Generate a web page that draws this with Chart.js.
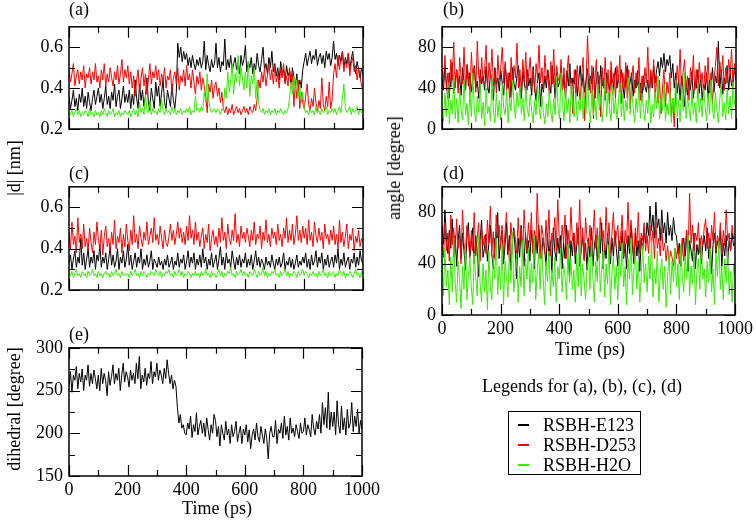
<!DOCTYPE html>
<html>
<head>
<meta charset="utf-8">
<script src="https://cdn.jsdelivr.net/npm/chart.js@4"></script>
<style>
  html, body { margin: 0; padding: 0; background: #fff; }
  body { width: 756px; height: 520px; position: relative; overflow: hidden;
         font-family: 'Liberation Serif', 'Times New Roman', serif; color: #000; }
  canvas { position: absolute; }
  .txt { position: absolute; font-size: 18px; line-height: 18px; white-space: nowrap; }
  .rot { position: absolute; font-size: 18px; line-height: 18px; white-space: nowrap;
         transform: translate(-50%, -50%) rotate(-90deg); }
  .ctr { position: absolute; font-size: 18px; line-height: 18px; white-space: nowrap;
         transform: translate(-50%, -50%); }
  #legend { position: absolute; left: 508px; top: 411px; width: 131px; height: 62px;
            border: 1.5px solid #000; }
  .row { position: absolute; left: 0; height: 20px; width: 130px; }
  .row span.ln { position: absolute; left: 9px; top: 9px; width: 11px; height: 1.5px; }
  .row span.lb { position: absolute; left: 34px; top: 1px; font-size: 18px; line-height: 18px; }
</style>
</head>
<body>

<canvas id="panelA" style="left:19px; top:10px;" width="364" height="156"></canvas>
<canvas id="panelB" style="left:392px; top:10px;" width="364" height="156"></canvas>
<canvas id="panelC" style="left:19px; top:170px;" width="364" height="157"></canvas>
<canvas id="panelD" style="left:392px; top:170px;" width="364" height="170"></canvas>
<canvas id="panelE" style="left:19px; top:331px;" width="364" height="170"></canvas>

<div class="txt" style="left:69px; top:0px;">(a)</div>
<div class="txt" style="left:443px; top:0px;">(b)</div>
<div class="txt" style="left:69px; top:164px;">(c)</div>
<div class="txt" style="left:443px; top:164px;">(d)</div>
<div class="txt" style="left:69px; top:325px;">(e)</div>

<div class="rot" style="left:14px; top:168px;">|d| [nm]</div>
<div class="rot" style="left:394px; top:168px;">angle [degree]</div>
<div class="rot" style="left:14px; top:409px;">dihedral [degree]</div>
<div class="ctr" style="left:590px; top:349px;">Time (ps)</div>
<div class="ctr" style="left:217px; top:508px;">Time (ps)</div>

<div class="ctr" style="left:582px; top:386px;">Legends for (a), (b), (c), (d)</div>
<div id="legend"></div>

<script>
// time axis (ps), one sample every 5 ps
const timePs = [
    0, 5, 10, 15, 20, 25, 30, 35, 40, 45, 50, 55, 60, 65, 70, 75, 80, 85, 90, 95,
    100, 105, 110, 115, 120, 125, 130, 135, 140, 145, 150, 155, 160, 165, 170, 175, 180, 185, 190, 195,
    200, 205, 210, 215, 220, 225, 230, 235, 240, 245, 250, 255, 260, 265, 270, 275, 280, 285, 290, 295,
    300, 305, 310, 315, 320, 325, 330, 335, 340, 345, 350, 355, 360, 365, 370, 375, 380, 385, 390, 395,
    400, 405, 410, 415, 420, 425, 430, 435, 440, 445, 450, 455, 460, 465, 470, 475, 480, 485, 490, 495,
    500, 505, 510, 515, 520, 525, 530, 535, 540, 545, 550, 555, 560, 565, 570, 575, 580, 585, 590, 595,
    600, 605, 610, 615, 620, 625, 630, 635, 640, 645, 650, 655, 660, 665, 670, 675, 680, 685, 690, 695,
    700, 705, 710, 715, 720, 725, 730, 735, 740, 745, 750, 755, 760, 765, 770, 775, 780, 785, 790, 795,
    800, 805, 810, 815, 820, 825, 830, 835, 840, 845, 850, 855, 860, 865, 870, 875, 880, 885, 890, 895,
    900, 905, 910, 915, 920, 925, 930, 935, 940, 945, 950, 955, 960, 965, 970, 975, 980, 985, 990, 995,
    1000
];

const seriesNames = ['RSBH-E123', 'RSBH-D253', 'RSBH-H2O'];
const seriesColors = ['#000000', '#ff0000', '#33ee00'];

// (a) |d| [nm]
const distA_E123 = [
    0.36, 0.30, 0.34, 0.39, 0.31, 0.35, 0.29, 0.37, 0.33, 0.40, 0.31, 0.36, 0.30, 0.38, 0.33, 0.29, 0.35, 0.39, 0.32, 0.36,
    0.40, 0.33, 0.37, 0.30, 0.35, 0.41, 0.32, 0.36, 0.30, 0.38, 0.34, 0.42, 0.31, 0.36, 0.39, 0.30, 0.35, 0.41, 0.33, 0.37,
    0.33, 0.39, 0.30, 0.37, 0.32, 0.44, 0.35, 0.30, 0.42, 0.34, 0.39, 0.31, 0.36, 0.45, 0.33, 0.29, 0.40, 0.35, 0.30, 0.43,
    0.36, 0.41, 0.31, 0.38, 0.44, 0.33, 0.30, 0.39, 0.35, 0.31, 0.42, 0.34, 0.30, 0.38, 0.62, 0.55, 0.60, 0.53, 0.58, 0.54,
    0.57, 0.51, 0.55, 0.50, 0.56, 0.52, 0.49, 0.54, 0.51, 0.55, 0.50, 0.53, 0.63, 0.49, 0.56, 0.51, 0.48, 0.54, 0.50, 0.52,
    0.62, 0.50, 0.55, 0.48, 0.53, 0.51, 0.64, 0.49, 0.54, 0.50, 0.56, 0.48, 0.52, 0.55, 0.49, 0.53, 0.47, 0.56, 0.51, 0.54,
    0.61, 0.48, 0.53, 0.50, 0.55, 0.47, 0.52, 0.49, 0.57, 0.51, 0.48, 0.54, 0.60, 0.49, 0.52, 0.47, 0.55, 0.50, 0.58, 0.48,
    0.52, 0.46, 0.50, 0.44, 0.53, 0.47, 0.49, 0.43, 0.51, 0.46, 0.48, 0.42, 0.50, 0.45, 0.41, 0.47, 0.38, 0.44, 0.40, 0.49,
    0.53, 0.57, 0.51, 0.55, 0.58, 0.52, 0.56, 0.54, 0.59, 0.51, 0.55, 0.57, 0.52, 0.56, 0.50, 0.58, 0.54, 0.57, 0.51, 0.55,
    0.63, 0.54, 0.57, 0.51, 0.56, 0.53, 0.58, 0.50, 0.55, 0.52, 0.57, 0.49, 0.54, 0.58, 0.51, 0.47, 0.53, 0.49, 0.45, 0.50,
    0.46
];
const distA_D253 = [
    0.50, 0.43, 0.47, 0.52, 0.41, 0.46, 0.49, 0.42, 0.48, 0.44, 0.51, 0.40, 0.47, 0.45, 0.50, 0.42, 0.48, 0.44, 0.52, 0.43,
    0.46, 0.40, 0.49, 0.44, 0.52, 0.41, 0.47, 0.43, 0.50, 0.45, 0.41, 0.48, 0.44, 0.51, 0.42, 0.47, 0.54, 0.43, 0.49, 0.45,
    0.51, 0.42, 0.48, 0.40, 0.46, 0.36, 0.44, 0.49, 0.38, 0.45, 0.50, 0.41, 0.47, 0.37, 0.44, 0.52, 0.42, 0.48, 0.45, 0.51,
    0.44, 0.49, 0.41, 0.47, 0.43, 0.50, 0.40, 0.46, 0.44, 0.49, 0.38, 0.45, 0.48, 0.42, 0.50, 0.39, 0.46, 0.43, 0.49, 0.41,
    0.51, 0.44, 0.47, 0.40, 0.49, 0.43, 0.37, 0.46, 0.42, 0.48, 0.39, 0.45, 0.41, 0.36, 0.28, 0.42, 0.38, 0.44, 0.35, 0.41,
    0.43, 0.36, 0.40, 0.33, 0.38, 0.30, 0.28, 0.31, 0.27, 0.30, 0.28, 0.32, 0.27, 0.29, 0.31, 0.28, 0.30, 0.27, 0.29, 0.31,
    0.28, 0.30, 0.27, 0.31, 0.29, 0.28, 0.32, 0.29, 0.35, 0.44, 0.40, 0.48, 0.43, 0.50, 0.41, 0.46, 0.52, 0.44, 0.49, 0.42,
    0.51, 0.43, 0.47, 0.40, 0.49, 0.45, 0.52, 0.42, 0.46, 0.41, 0.50, 0.44, 0.47, 0.31, 0.43, 0.35, 0.44, 0.30, 0.38, 0.33,
    0.30, 0.36, 0.42, 0.32, 0.29, 0.35, 0.31, 0.40, 0.33, 0.28, 0.34, 0.30, 0.45, 0.32, 0.29, 0.36, 0.31, 0.43, 0.30, 0.34,
    0.47, 0.52, 0.45, 0.56, 0.49, 0.54, 0.58, 0.48, 0.53, 0.50, 0.57, 0.46, 0.52, 0.55, 0.48, 0.51, 0.44, 0.50, 0.46, 0.41,
    0.39
];
const distA_H2O = [
    0.28, 0.27, 0.29, 0.26, 0.28, 0.30, 0.27, 0.29, 0.26, 0.28, 0.27, 0.29, 0.28, 0.26, 0.30, 0.27, 0.28, 0.26, 0.29, 0.27,
    0.28, 0.26, 0.29, 0.27, 0.30, 0.28, 0.26, 0.29, 0.27, 0.28, 0.30, 0.26, 0.28, 0.27, 0.29, 0.26, 0.28, 0.27, 0.29, 0.28,
    0.27, 0.29, 0.26, 0.28, 0.30, 0.27, 0.29, 0.26, 0.33, 0.28, 0.30, 0.27, 0.37, 0.29, 0.28, 0.34, 0.27, 0.30, 0.28, 0.29,
    0.27, 0.30, 0.28, 0.35, 0.29, 0.27, 0.30, 0.28, 0.29, 0.27, 0.31, 0.28, 0.30, 0.27, 0.29, 0.28, 0.30, 0.27, 0.29, 0.28,
    0.30, 0.28, 0.31, 0.27, 0.29, 0.28, 0.36, 0.29, 0.30, 0.28, 0.31, 0.29, 0.38, 0.33, 0.47, 0.35, 0.30, 0.28, 0.29, 0.30,
    0.28, 0.30, 0.29, 0.27, 0.30, 0.29, 0.40, 0.35, 0.48, 0.38, 0.44, 0.52, 0.37, 0.47, 0.43, 0.56, 0.41, 0.50, 0.45, 0.39,
    0.48, 0.40, 0.53, 0.36, 0.46, 0.42, 0.50, 0.35, 0.44, 0.33, 0.29, 0.28, 0.30, 0.27, 0.29, 0.28, 0.30, 0.27, 0.29, 0.28,
    0.30, 0.27, 0.29, 0.28, 0.30, 0.28, 0.27, 0.29, 0.28, 0.30, 0.35, 0.43, 0.37, 0.46, 0.39, 0.44, 0.36, 0.42, 0.33, 0.38,
    0.30, 0.28, 0.29, 0.27, 0.30, 0.28, 0.29, 0.27, 0.31, 0.28, 0.29, 0.27, 0.30, 0.28, 0.29, 0.31, 0.27, 0.29, 0.28, 0.30,
    0.28, 0.30, 0.27, 0.29, 0.31, 0.28, 0.35, 0.42, 0.30, 0.28, 0.29, 0.31, 0.27, 0.30, 0.28, 0.29, 0.31, 0.27, 0.30, 0.28,
    0.29
];

// (b) angle [degree]
const angleB_E123 = [
    50, 38, 62, 44, 30, 55, 41, 65, 35, 48, 58, 40, 52, 33, 60, 45, 38, 63, 42, 55,
    36, 50, 62, 40, 47, 30, 58, 44, 52, 38, 61, 42, 35, 55, 46, 28, 60, 43, 50, 37,
    57, 45, 33, 63, 48, 40, 55, 31, 60, 44, 38, 52, 62, 41, 30, 56, 45, 35, 58, 42,
    50, 33, 61, 40, 28, 47, 55, 22, 44, 36, 52, 40, 58, 45, 35, 62, 48, 30, 55, 41,
    46, 60, 38, 52, 30, 57, 42, 64, 35, 50, 44, 58, 32, 48, 62, 40, 54, 36, 47, 59,
    38, 52, 44, 60, 30, 48, 56, 35, 62, 42, 50, 28, 55, 45, 38, 58, 33, 47, 60, 40,
    52, 36, 58, 44, 30, 50, 62, 38, 46, 55, 32, 48, 40, 57, 35, 45, 28, 52, 42, 36,
    48, 30, 55, 40, 62, 45, 58, 66, 52, 70, 60, 74, 56, 68, 62, 72, 50, 64, 40, 55,
    35, 48, 28, 52, 40, 22, 45, 33, 50, 38, 56, 30, 46, 40, 58, 35, 52, 28, 44, 38,
    55, 30, 48, 42, 60, 36, 52, 45, 86, 40, 58, 34, 50, 44, 62, 38, 55, 42, 48, 60,
    48
];
const angleB_D253 = [
    62, 45, 72, 38, 55, 30, 68, 48, 85, 40, 58, 35, 70, 50, 44, 80, 38, 63, 52, 33,
    75, 47, 60, 36, 86, 52, 40, 70, 45, 58, 82, 38, 65, 50, 78, 42, 56, 35, 72, 48,
    60, 80, 45, 66, 38, 55, 28, 70, 42, 62, 50, 84, 40, 58, 35, 68, 46, 75, 38, 55,
    70, 42, 58, 36, 64, 50, 82, 45, 60, 38, 72, 48, 55, 33, 66, 44, 78, 40, 62, 50,
    45, 68, 38, 60, 30, 55, 72, 42, 50, 15, 58, 35, 62, 40, 28, 52, 70, 8, 45, 91,
    55, 35, 62, 10, 48, 68, 30, 52, 12, 60, 40, 70, 35, 58, 25, 66, 45, 55, 30, 62,
    48, 72, 25, 55, 40, 65, 30, 58, 20, 50, 62, 35, 55, 42, 70, 28, 52, 38, 60, 45,
    80, 35, 58, 42, 68, 30, 52, 25, 48, 15, 40, 58, 22, 46, 35, 55, 12, 30, 2, 40,
    62, 45, 78, 35, 55, 68, 40, 52, 28, 60, 45, 72, 38, 58, 30, 65, 48, 55, 35, 62,
    46, 70, 35, 55, 25, 48, 62, 80, 42, 66, 50, 72, 38, 60, 45, 68, 52, 78, 40, 64,
    60
];
const angleB_H2O = [
    20, 8, 35, 12, 45, 5, 28, 15, 52, 10, 30, 6, 40, 18, 9, 48, 14, 25, 4, 38,
    12, 55, 20, 7, 32, 16, 45, 10, 26, 3, 40, 15, 22, 8, 50, 18, 6, 35, 12, 28,
    9, 44, 20, 14, 38, 6, 30, 18, 48, 25, 10, 36, 22, 42, 15, 30, 8, 40, 20, 12,
    34, 18, 6, 28, 14, 45, 22, 10, 32, 16, 5, 25, 12, 38, 18, 7, 30, 14, 52, 20,
    10, 55, 26, 8, 40, 16, 30, 6, 45, 22, 12, 35, 8, 28, 18, 42, 10, 30, 15, 50,
    20, 6, 38, 14, 28, 9, 44, 18, 32, 7, 25, 48, 12, 36, 20, 8, 42, 15, 30, 10,
    26, 45, 12, 34, 8, 28, 18, 50, 14, 38, 22, 6, 30, 16, 44, 10, 35, 20, 8, 28,
    15, 40, 6, 24, 12, 36, 20, 52, 10, 30, 18, 44, 8, 25, 14, 38, 6, 30, 16, 48,
    12, 28, 7, 42, 18, 55, 10, 32, 20, 8, 38, 14, 26, 6, 45, 16, 30, 12, 40, 22,
    8, 35, 14, 48, 20, 10, 36, 18, 6, 30, 44, 12, 26, 9, 40, 15, 32, 10, 46, 24,
    20
];

// (c) |d| [nm]
const distC_E123 = [
    0.33, 0.37, 0.30, 0.35, 0.39, 0.31, 0.36, 0.33, 0.45, 0.32, 0.38, 0.30, 0.35, 0.40, 0.31, 0.36, 0.33, 0.39, 0.30, 0.37,
    0.34, 0.42, 0.31, 0.36, 0.33, 0.38, 0.30, 0.35, 0.41, 0.32, 0.37, 0.31, 0.34, 0.40, 0.30, 0.36, 0.33, 0.39, 0.31, 0.35,
    0.42, 0.32, 0.37, 0.30, 0.34, 0.38, 0.31, 0.36, 0.33, 0.40, 0.30, 0.35, 0.32, 0.37, 0.31, 0.34, 0.39, 0.30, 0.35, 0.33,
    0.31, 0.36, 0.32, 0.34, 0.30, 0.35, 0.32, 0.37, 0.31, 0.33, 0.36, 0.30, 0.34, 0.32, 0.38, 0.31, 0.35, 0.33, 0.37, 0.30,
    0.34, 0.39, 0.31, 0.36, 0.33, 0.38, 0.30, 0.35, 0.32, 0.37, 0.31, 0.40, 0.33, 0.36, 0.30, 0.35, 0.32, 0.38, 0.31, 0.34,
    0.37, 0.30, 0.35, 0.41, 0.32, 0.36, 0.30, 0.38, 0.33, 0.35, 0.31, 0.39, 0.34, 0.30, 0.36, 0.32, 0.37, 0.31, 0.35, 0.33,
    0.38, 0.31, 0.35, 0.32, 0.37, 0.30, 0.34, 0.39, 0.32, 0.36, 0.31, 0.35, 0.33, 0.30, 0.36, 0.32, 0.34, 0.31, 0.37, 0.33,
    0.30, 0.35, 0.32, 0.36, 0.31, 0.33, 0.38, 0.30, 0.34, 0.32, 0.36, 0.31, 0.35, 0.30, 0.33, 0.37, 0.31, 0.34, 0.32, 0.36,
    0.33, 0.38, 0.31, 0.35, 0.30, 0.37, 0.32, 0.34, 0.39, 0.31, 0.36, 0.33, 0.38, 0.30, 0.35, 0.32, 0.37, 0.31, 0.34, 0.36,
    0.31, 0.37, 0.33, 0.40, 0.30, 0.35, 0.32, 0.38, 0.31, 0.34, 0.36, 0.30, 0.35, 0.33, 0.38, 0.31, 0.36, 0.32, 0.39, 0.34,
    0.33
];
const distC_D253 = [
    0.48, 0.40, 0.53, 0.42, 0.46, 0.38, 0.55, 0.43, 0.47, 0.40, 0.52, 0.41, 0.45, 0.39, 0.50, 0.43, 0.38, 0.48, 0.42, 0.53,
    0.44, 0.40, 0.49, 0.37, 0.46, 0.51, 0.41, 0.45, 0.39, 0.48, 0.42, 0.54, 0.40, 0.46, 0.43, 0.50, 0.38, 0.47, 0.41, 0.52,
    0.44, 0.39, 0.49, 0.42, 0.56, 0.43, 0.47, 0.40, 0.51, 0.45, 0.41, 0.48, 0.44, 0.53, 0.42, 0.46, 0.50, 0.43, 0.55, 0.44,
    0.47, 0.42, 0.51, 0.45, 0.40, 0.49, 0.43, 0.41, 0.46, 0.52, 0.44, 0.49, 0.42, 0.47, 0.53, 0.45, 0.50, 0.43, 0.48, 0.42,
    0.51, 0.44, 0.56, 0.45, 0.49, 0.42, 0.53, 0.44, 0.48, 0.41, 0.46, 0.50, 0.40, 0.47, 0.43, 0.52, 0.39, 0.45, 0.49, 0.42,
    0.46, 0.41, 0.50, 0.43, 0.55, 0.44, 0.48, 0.40, 0.52, 0.45, 0.42, 0.49, 0.44, 0.57, 0.43, 0.47, 0.41, 0.51, 0.45, 0.48,
    0.43, 0.50, 0.46, 0.41, 0.49, 0.44, 0.53, 0.42, 0.47, 0.45, 0.51, 0.40, 0.48, 0.44, 0.54, 0.43, 0.47, 0.41, 0.50, 0.45,
    0.48, 0.42, 0.52, 0.44, 0.47, 0.41, 0.50, 0.45, 0.55, 0.43, 0.49, 0.44, 0.52, 0.42, 0.47, 0.56, 0.44, 0.49, 0.43, 0.51,
    0.45, 0.50, 0.42, 0.54, 0.44, 0.48, 0.41, 0.53, 0.46, 0.43, 0.50, 0.44, 0.48, 0.40, 0.52, 0.45, 0.47, 0.42, 0.49, 0.44,
    0.51, 0.42, 0.47, 0.40, 0.54, 0.43, 0.48, 0.41, 0.46, 0.52, 0.40, 0.47, 0.44, 0.50, 0.39, 0.46, 0.43, 0.49, 0.41, 0.45,
    0.43
];
const distC_H2O = [
    0.28, 0.27, 0.29, 0.26, 0.28, 0.30, 0.27, 0.28, 0.26, 0.29, 0.27, 0.28, 0.26, 0.29, 0.27, 0.28, 0.30, 0.27, 0.28, 0.26,
    0.29, 0.27, 0.28, 0.26, 0.28, 0.29, 0.27, 0.28, 0.26, 0.29, 0.27, 0.28, 0.30, 0.27, 0.28, 0.26, 0.29, 0.27, 0.28, 0.27,
    0.28, 0.26, 0.29, 0.27, 0.28, 0.30, 0.27, 0.28, 0.26, 0.29, 0.27, 0.29, 0.28, 0.26, 0.28, 0.27, 0.29, 0.28, 0.27, 0.30,
    0.28, 0.27, 0.29, 0.26, 0.28, 0.27, 0.29, 0.28, 0.30, 0.27, 0.28, 0.26, 0.29, 0.27, 0.28, 0.30, 0.27, 0.29, 0.26, 0.28,
    0.27, 0.29, 0.28, 0.26, 0.28, 0.27, 0.29, 0.27, 0.28, 0.26, 0.29, 0.27, 0.28, 0.30, 0.27, 0.28, 0.26, 0.29, 0.27, 0.28,
    0.26, 0.28, 0.30, 0.27, 0.29, 0.26, 0.28, 0.27, 0.29, 0.28, 0.31, 0.27, 0.28, 0.26, 0.29, 0.27, 0.28, 0.30, 0.27, 0.29,
    0.27, 0.28, 0.26, 0.29, 0.28, 0.27, 0.30, 0.28, 0.26, 0.29, 0.27, 0.28, 0.31, 0.27, 0.29, 0.26, 0.28, 0.27, 0.29, 0.28,
    0.30, 0.27, 0.28, 0.26, 0.29, 0.27, 0.28, 0.30, 0.27, 0.29, 0.26, 0.28, 0.27, 0.29, 0.28, 0.26, 0.29, 0.27, 0.28, 0.30,
    0.27, 0.29, 0.28, 0.26, 0.28, 0.27, 0.29, 0.27, 0.28, 0.26, 0.29, 0.27, 0.28, 0.30, 0.27, 0.28, 0.26, 0.29, 0.27, 0.28,
    0.29, 0.26, 0.28, 0.27, 0.30, 0.28, 0.27, 0.29, 0.26, 0.28, 0.27, 0.29, 0.28, 0.26, 0.28, 0.30, 0.27, 0.28, 0.26, 0.29,
    0.27
];

// (d) angle [degree]
const angleD_E123 = [
    70, 55, 82, 60, 48, 66, 52, 75, 45, 62, 38, 58, 70, 44, 64, 50, 35, 60, 72, 46,
    55, 68, 40, 62, 50, 30, 58, 74, 45, 52, 63, 42, 56, 70, 48, 36, 60, 52, 80, 44,
    58, 66, 40, 54, 72, 47, 62, 35, 56, 68, 50, 28, 60, 45, 70, 52, 38, 64, 48, 58,
    42, 66, 54, 36, 62, 48, 70, 55, 44, 60, 52, 38, 64, 46, 58, 33, 68, 50, 42, 60,
    48, 62, 36, 56, 44, 70, 52, 30, 58, 46, 64, 40, 55, 68, 38, 50, 62, 44, 56, 35,
    60, 45, 68, 38, 54, 62, 42, 58, 48, 72, 36, 55, 44, 64, 50, 40, 60, 46, 66, 52,
    38, 58, 50, 66, 44, 56, 36, 62, 48, 70, 54, 40, 64, 46, 58, 34, 60, 50, 68, 56,
    72, 62, 85, 66, 78, 60, 88, 68, 75, 58, 82, 64, 72, 56, 80, 62, 70, 58, 76, 64,
    62, 48, 56, 38, 52, 60, 45, 66, 34, 58, 50, 42, 64, 36, 55, 47, 60, 40, 54, 62,
    50, 68, 44, 60, 32, 55, 64, 48, 58, 52, 66, 38, 56, 46, 62, 40, 58, 50, 64, 54,
    56
];
const angleD_D253 = [
    58, 45, 72, 50, 64, 42, 78, 55, 68, 48, 75, 52, 62, 40, 82, 56, 48, 70, 58, 44,
    66, 50, 80, 46, 60, 72, 42, 68, 54, 62, 48, 74, 56, 85, 50, 65, 44, 78, 60, 70,
    52, 70, 46, 64, 80, 55, 42, 72, 58, 66, 60, 48, 76, 54, 68, 45, 82, 62, 50, 72,
    56, 80, 48, 66, 52, 95, 58, 44, 70, 62, 48, 74, 55, 82, 46, 64, 58, 76, 50, 90,
    62, 48, 70, 56, 78, 44, 66, 52, 84, 58, 64, 46, 72, 55, 90, 50, 68, 42, 76, 60,
    54, 70, 46, 62, 82, 52, 68, 44, 76, 58, 66, 50, 84, 56, 72, 48, 64, 80, 54, 62,
    70, 50, 62, 78, 46, 66, 56, 88, 52, 74, 60, 45, 68, 54, 80, 48, 64, 58, 72, 50,
    62, 48, 70, 55, 66, 44, 72, 52, 60, 46, 68, 50, 56, 42, 54, 40, 50, 45, 38, 52,
    44, 55, 40, 48, 60, 42, 52, 66, 48, 95, 56, 70, 50, 64, 58, 72, 48, 62, 55, 68,
    75, 52, 64, 46, 70, 58, 80, 50, 62, 56, 72, 48, 66, 54, 82, 58, 64, 50, 70, 60,
    60
];
const angleD_H2O = [
    40, 15, 52, 22, 35, 8, 45, 18, 60, 25, 10, 42, 28, 5, 38, 20, 55, 12, 30, 45,
    22, 8, 48, 30, 15, 62, 25, 10, 40, 18, 35, 4, 50, 22, 12, 45, 28, 60, 16, 38,
    20, 55, 8, 42, 30, 14, 50, 25, 65, 18, 32, 48, 10, 38, 22, 58, 15, 44, 28, 52,
    18, 40, 25, 62, 12, 35, 48, 20, 55, 30, 8, 42, 26, 50, 15, 35, 22, 45, 10, 38,
    28, 52, 18, 40, 30, 12, 55, 25, 44, 20, 35, 10, 48, 22, 58, 15, 40, 28, 12, 36,
    45, 20, 58, 30, 10, 42, 26, 62, 18, 35, 50, 14, 40, 24, 55, 8, 32, 46, 20, 38,
    12, 48, 30, 56, 22, 38, 8, 44, 28, 60, 16, 35, 50, 20, 42, 10, 30, 54, 25, 40,
    18, 46, 28, 58, 14, 36, 24, 50, 10, 32, 44, 20, 38, 6, 30, 48, 16, 42, 26, 52,
    22, 40, 12, 55, 30, 18, 46, 28, 62, 15, 38, 24, 50, 8, 34, 44, 20, 56, 28, 36,
    14, 42, 26, 52, 18, 36, 8, 48, 30, 58, 20, 38, 12, 44, 25, 50, 16, 34, 10, 40,
    30
];

// (e) dihedral [degree]
const dihedralE = [
    255, 272, 248, 268, 262, 278, 252, 270, 260, 275, 250, 268, 262, 280, 255, 270, 258, 274, 264, 252,
    268, 250, 276, 258, 270, 262, 244, 272, 256, 266, 280, 258, 270, 262, 276, 250, 268, 282, 260, 272,
    266, 254, 274, 262, 270, 258, 282, 264, 290, 252, 268, 260, 276, 256, 270, 264, 284, 258, 272, 266,
    282, 262, 274, 268, 258, 276, 264, 286, 270, 258, 268, 252, 262, 255, 230, 212, 222, 206, 210, 200,
    198, 212, 205, 220, 195, 210, 202, 224, 198, 208, 215, 200, 212, 196, 218, 204, 192, 210, 200, 222,
    215, 196, 208, 185, 210, 200, 192, 214, 198, 205, 188, 210, 196, 202, 214, 190, 200, 208, 188, 205,
    198, 210, 190, 204, 182, 198, 205, 192, 212, 196, 190, 208, 198, 188, 205, 194, 170, 200, 208, 196,
    196, 215, 188, 205, 200, 212, 194, 220, 198, 208, 192, 218, 200, 206, 196, 210, 202, 194, 212, 200,
    202, 218, 198, 210, 204, 196, 222, 206, 198, 214, 205, 222, 200, 236, 210, 230, 206, 248, 204, 225,
    208, 225, 198, 238, 210, 200, 232, 204, 218, 198, 228, 206, 212, 236, 202, 220, 208, 228, 200, 215,
    205
];

// tick values
const timeMajorTicks = [0, 200, 400, 600, 800, 1000];
const timeMinorTicks = [100, 300, 500, 700, 900];
const distMajorTicks = [0.2, 0.4, 0.6];
const distMinorTicks = [0.3, 0.5];
const angleMajorTicks = [0, 40, 80];
const angleMinorTicks = [20, 60];
const dihedralMajorTicks = [150, 200, 250, 300];
const dihedralMinorTicks = [175, 225, 275];

const tickFont = { family: "'Liberation Serif', 'Times New Roman', serif", size: 18 };

// frame plus inward ticks on all four sides, like xmgrace
const frameTicks = {
    id: 'frameTicks',
    afterDatasetsDraw(chart, args, opts) {
        const { ctx, chartArea: a, scales } = chart;
        const x = scales.x, y = scales.y;
        ctx.save();
        ctx.strokeStyle = '#000';
        ctx.lineWidth = 1.2;
        ctx.beginPath();
        const drawX = (vals, len) => vals.forEach(v => {
            const px = Math.round(x.getPixelForValue(v)) + 0.5;
            ctx.moveTo(px, a.bottom); ctx.lineTo(px, a.bottom - len);
            ctx.moveTo(px, a.top); ctx.lineTo(px, a.top + len);
        });
        const drawY = (vals, len) => vals.forEach(v => {
            const py = Math.round(y.getPixelForValue(v)) + 0.5;
            ctx.moveTo(a.left, py); ctx.lineTo(a.left + len, py);
            ctx.moveTo(a.right, py); ctx.lineTo(a.right - len, py);
        });
        drawX(timeMajorTicks, 11);
        drawX(timeMinorTicks, 6);
        drawY(opts.yMajor, 11);
        drawY(opts.yMinor, 6);
        ctx.stroke();
        ctx.lineWidth = 1.5;
        ctx.strokeRect(a.left, a.top, a.right - a.left, a.bottom - a.top);
        ctx.restore();
    }
};

function makeDatasets(seriesList) {
    return seriesList.map((vals, i) => ({
        label: seriesNames[i],
        data: timePs.map((t, k) => ({ x: t, y: vals[k] })),
        borderColor: seriesColors[i],
        borderWidth: 1,
        pointRadius: 0,
        tension: 0,
        order: seriesList.length - i
    }));
}

function makePanel(id, datasets, yMin, yMax, yMajor, yMinor, yFmt, showX) {
    const ctx = document.getElementById(id).getContext('2d');
    return new Chart(ctx, {
        type: 'line',
        data: { datasets: datasets },
        options: {
            responsive: false,
            animation: false,
            events: [],
            layout: { padding: { top: 12, right: 20, bottom: showX ? 0 : 12, left: 0 } },
            plugins: {
                legend: { display: false },
                tooltip: { enabled: false },
                frameTicks: { yMajor: yMajor, yMinor: yMinor }
            },
            scales: {
                x: {
                    type: 'linear',
                    min: 0,
                    max: 1000,
                    display: showX,
                    afterBuildTicks: s => { s.ticks = timeMajorTicks.map(v => ({ value: v })); },
                    afterFit: s => { s.height = 25; },
                    grid: { display: false, drawTicks: false },
                    border: { display: false },
                    ticks: { padding: 3, font: tickFont, color: '#000', maxRotation: 0, autoSkip: false,
                             callback: v => String(v) }
                },
                y: {
                    type: 'linear',
                    min: yMin,
                    max: yMax,
                    afterBuildTicks: s => { s.ticks = yMajor.map(v => ({ value: v })); },
                    afterFit: s => { s.width = 50; },
                    grid: { display: false, drawTicks: false },
                    border: { display: false },
                    ticks: { padding: 6, font: tickFont, color: '#000', autoSkip: false,
                             callback: v => yFmt(v) }
                }
            }
        },
        plugins: [frameTicks]
    });
}

const fmtDist = v => v.toFixed(1);
const fmtInt = v => String(Math.round(v));

makePanel('panelA', makeDatasets([distA_E123, distA_D253, distA_H2O]),
    0.2, 0.7, distMajorTicks, distMinorTicks, fmtDist, false);
makePanel('panelB', makeDatasets([angleB_E123, angleB_D253, angleB_H2O]),
    0, 100, angleMajorTicks, angleMinorTicks, fmtInt, false);
makePanel('panelC', makeDatasets([distC_E123, distC_D253, distC_H2O]),
    0.2, 0.7, distMajorTicks, distMinorTicks, fmtDist, false);
makePanel('panelD', makeDatasets([angleD_E123, angleD_D253, angleD_H2O]),
    0, 100, angleMajorTicks, angleMinorTicks, fmtInt, true);
makePanel('panelE', makeDatasets([dihedralE]),
    150, 300, dihedralMajorTicks, dihedralMinorTicks, fmtInt, true);

// legend box for (a)-(d)
const legendBox = document.getElementById('legend');
seriesNames.forEach((name, i) => {
    const row = document.createElement('div');
    row.className = 'row';
    row.style.top = (3 + i * 20) + 'px';
    row.innerHTML = '<span class="ln" style="background:' + seriesColors[i] + '"></span>' +
                    '<span class="lb">' + name + '</span>';
    legendBox.appendChild(row);
});
</script>
</body>
</html>
